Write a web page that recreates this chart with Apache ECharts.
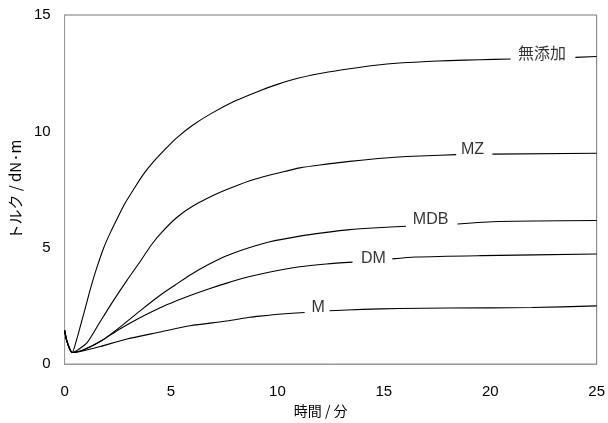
<!DOCTYPE html>
<html>
<head>
<meta charset="utf-8">
<script src="https://cdn.jsdelivr.net/npm/echarts@6/dist/echarts.min.js"></script>
<style>
  html, body { margin: 0; padding: 0; background: #fff; }
  #chart { width: 608px; height: 423px; }
</style>
</head>
<body>
<div id="chart"></div>
<script>
// トルク曲線 [時間(分), トルク(dN·m)]、'-' はラベル位置の切れ目
var mutenka = [[0,1.45],[0.12,0.95],[0.36,0.5],[0.55,1.0],[0.75,1.66],[1.0,2.5],[1.22,3.25],[1.5,4.1],[1.84,5.0],[2.15,5.65],[2.47,6.25],[2.8,6.85],[3.24,7.5],[3.7,8.15],[4.18,8.7],[4.8,9.3],[5.27,9.72],[6.0,10.25],[6.84,10.74],[8.0,11.3],[9.18,11.75],[10,12.02],[11.05,12.3],[12.2,12.52],[13.39,12.69],[14.5,12.83],[15.73,12.94],[17,13.0],[18.07,13.04],[19.5,13.08],[20.96,13.11],[22.5,'-'],[24.0,13.18],[25,13.22]];
var mz = [[0,1.45],[0.12,0.95],[0.36,0.5],[0.6,0.6],[1.06,0.92],[1.69,1.85],[2.31,2.75],[2.93,3.6],[3.56,4.42],[4.1,5.15],[4.5,5.6],[5.27,6.3],[6.05,6.8],[7.0,7.25],[7.62,7.5],[8.7,7.88],[9.18,8.01],[10,8.2],[11.05,8.43],[12.2,8.58],[13.39,8.71],[14.5,8.81],[15.73,8.9],[17,8.95],[18.4,9.0],[19.2,'-'],[20.1,9.02],[25,9.06]];
var mdb = [[0,1.45],[0.12,0.95],[0.36,0.5],[0.9,0.62],[1.69,0.98],[2.62,1.6],[3.56,2.3],[4.49,2.96],[5.2,3.4],[5.9,3.83],[6.8,4.3],[7.62,4.66],[8.7,5.01],[9.6,5.25],[11.05,5.5],[12.2,5.65],[13.39,5.78],[14.7,5.86],[16.04,5.92],[17.2,'-'],[18.46,6.02],[20.4,6.13],[25,6.17]];
var dm = [[0,1.45],[0.12,0.95],[0.36,0.5],[0.9,0.62],[1.69,0.98],[2.62,1.52],[3.56,2.0],[4.49,2.42],[5.2,2.7],[5.9,2.95],[6.8,3.24],[7.62,3.48],[8.7,3.76],[9.6,3.95],[11.05,4.18],[12.3,4.3],[13.53,4.38],[14.5,'-'],[15.4,4.52],[16.5,4.6],[19.6,4.66],[25,4.73]];
var m = [[0,1.45],[0.12,0.95],[0.36,0.5],[0.8,0.55],[1.69,0.76],[2.93,1.08],[4.49,1.38],[5.9,1.65],[7.62,1.85],[8.7,2.01],[9.18,2.06],[10.2,2.15],[11.28,2.22],[11.9,'-'],[12.45,2.29],[14,2.35],[15.73,2.39],[18,2.41],[21.96,2.43],[25,2.5]];

var seriesNames = ['無添加', 'MZ', 'MDB', 'DM', 'M'];
var labelX = [22.43, 19.17, 17.2, 14.51, 11.91];
var labelY = [13.32, 9.22, 6.2, 4.54, 2.43];

var xTicks = [0, 5, 10, 15, 20, 25];
var yTicks = [0, 5, 10, 15];

var curves = [mutenka, mz, mdb, dm, m];

var chart = echarts.init(document.getElementById('chart'));

var series = curves.map(function (d, i) {
  return {
    name: seriesNames[i],
    type: 'line',
    data: d,
    showSymbol: false,
    smooth: 0.25,
    connectNulls: false,
    lineStyle: { color: '#000', width: 1.1 },
    silent: true
  };
});

series.push({
  type: 'scatter',
  symbolSize: 0,
  silent: true,
  data: seriesNames.map(function (n, i) {
    return { name: n, value: [labelX[i], labelY[i]] };
  }),
  label: {
    show: true,
    position: 'inside',
    formatter: function (p) { return p.name; },
    color: '#000',
    fontSize: 16,
    fontFamily: 'Liberation Sans, Noto Sans CJK JP, sans-serif'
  }
});

chart.setOption({
  animation: false,
  backgroundColor: '#fff',
  grid: {
    left: 64, right: 10, top: 15, bottom: 50,
    show: true, borderColor: '#777', borderWidth: 1
  },
  xAxis: {
    type: 'value',
    min: xTicks[0], max: xTicks[xTicks.length - 1], interval: 5,
    name: '時間 / 分',
    nameLocation: 'middle',
    nameGap: 35,
    nameTextStyle: {
      fontSize: 14, color: '#000', padding: [0, 20, 0, 0],
      fontFamily: 'Noto Sans CJK JP, sans-serif'
    },
    axisLine: { show: true, lineStyle: { color: '#999' } },
    axisTick: { show: false },
    splitLine: { show: false },
    axisLabel: {
      fontSize: 15, color: '#000', margin: 20,
      fontFamily: 'Liberation Sans, Arial, sans-serif'
    }
  },
  yAxis: {
    type: 'value',
    min: yTicks[0], max: yTicks[yTicks.length - 1], interval: 5,
    name: 'トルク / dN·m',
    nameLocation: 'middle',
    nameGap: 40,
    nameTextStyle: {
      fontSize: 15, color: '#000',
      fontFamily: 'Noto Sans CJK JP, sans-serif'
    },
    axisLine: { show: true, lineStyle: { color: '#999' } },
    axisTick: { show: false },
    splitLine: { show: false },
    axisLabel: {
      fontSize: 15, color: '#000', margin: 14,
      fontFamily: 'Liberation Sans, Arial, sans-serif'
    }
  },
  series: series
});
</script>
</body>
</html>
